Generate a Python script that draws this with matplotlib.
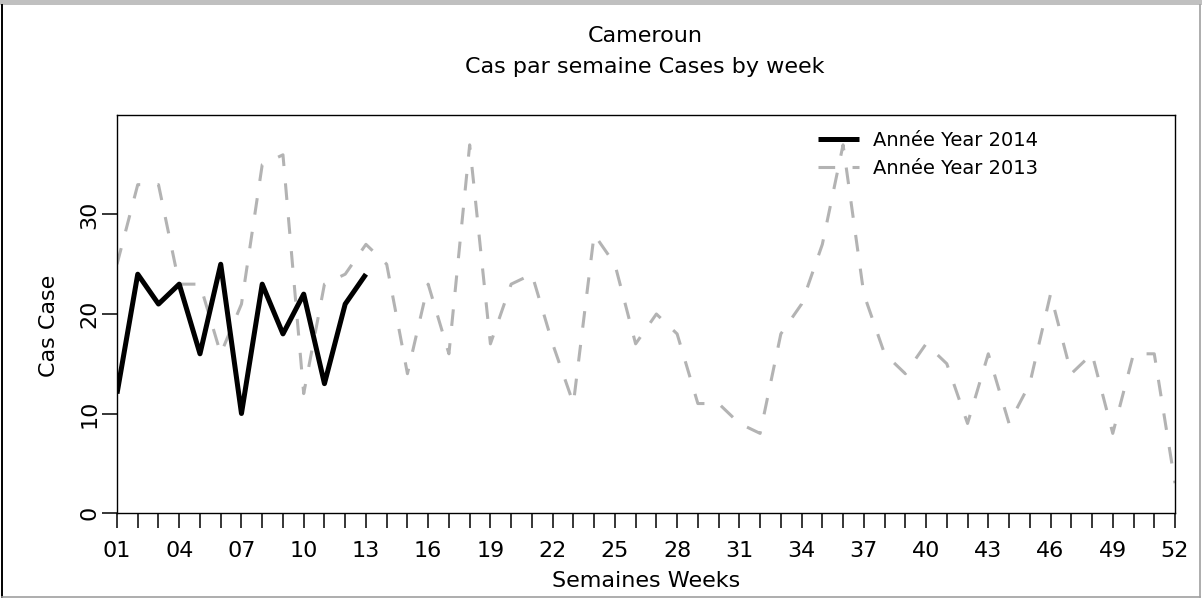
import matplotlib
matplotlib.use("Agg")
import matplotlib.pyplot as plt
from matplotlib.lines import Line2D
from matplotlib.patches import Rectangle

# ---- data ----
weeks_2014 = list(range(1, 14))
cases_2014 = [12, 24, 21, 23, 16, 25, 10, 23, 18, 22, 13, 21, 24]

weeks_2013 = list(range(1, 53))
cases_2013 = [25, 33, 33, 23, 23, 16, 21, 35, 36, 12,
              23, 24, 27, 25, 14, 23, 16, 37, 17, 23,
              24, 17, 11, 28, 25, 17, 20, 18, 11, 11,
              9, 8, 18, 21, 27, 37, 22, 16, 14, 17,
              15, 9, 16, 9, 13, 22, 14, 16, 8, 16,
              16, 3]

week_tick_labels = ["01", "04", "07", "10", "13", "16", "19", "22", "25",
                    "28", "31", "34", "37", "40", "43", "46", "49", "52"]
y_ticks = [0, 10, 20, 30]
y_tick_labels = ["0", "10", "20", "30"]

title_line1 = "Cameroun"
title_line2 = "Cas par semaine Cases by week"
x_label = "Semaines Weeks"
y_label = "Cas Case"
legend_labels = ["Année Year 2014", "Année Year 2013"]

# ---- style ----
plt.rcParams['font.family'] = ['DejaVu Sans']
plt.rcParams['lines.scale_dashes'] = False

W, H = 1202, 600
fig = plt.figure(figsize=(W / 100, H / 100), dpi=100)
fig.patch.set_facecolor('white')

ax = fig.add_axes([117 / W, (H - 513) / H, (1175 - 117) / W, (513 - 115) / H])

l13, = ax.plot(weeks_2013, cases_2013, color='#b3b3b3', lw=2.2,
               linestyle=(0, (12, 12.5)), dash_capstyle='butt',
               dash_joinstyle='round')
l14, = ax.plot(weeks_2014, cases_2014, color='black', lw=3.6,
               solid_joinstyle='round', solid_capstyle='butt')

ax.set_xlim(1, 52)
ax.set_ylim(0, 40)

tick_pos = [int(t) for t in week_tick_labels]
ax.set_xticks(tick_pos)
ax.set_xticklabels(week_tick_labels)
ax.set_xticks(weeks_2013, minor=True)
ax.tick_params(axis='x', which='both', length=10.5, width=1.1,
               direction='out', pad=10, labelsize=16, colors='black')

ax.set_yticks(y_ticks)
ax.set_yticklabels(y_tick_labels)
ax.tick_params(axis='y', length=10.5, width=1.1, direction='out', pad=2,
               labelsize=16)
for lab in ax.get_yticklabels():
    lab.set_rotation(90)
    lab.set_va('center')

for sp in ax.spines.values():
    sp.set_linewidth(1.0)
    sp.set_color('black')

ax.set_xlabel(x_label, fontsize=16, va='center')
ax.xaxis.set_label_coords(0.5, (513 - 581) / 398)
ax.set_ylabel(y_label, fontsize=16, va='center')
ax.yaxis.set_label_coords((49 - 117) / 1058, (513 - 326) / 398)

fig.text(645 / W, 1 - 36 / H, title_line1, ha='center', va='center', fontsize=16)
fig.text(645 / W, 1 - 67 / H, title_line2, ha='center', va='center', fontsize=16)

ax.legend([l14, l13], legend_labels, loc='upper left',
          bbox_to_anchor=((818 - 117) / 1058, (513 - 131) / 398),
          frameon=False, fontsize=14, handlelength=2.1, handletextpad=0.75,
          labelspacing=0.45, borderpad=0, borderaxespad=0)

# ---- window frame ----
fig.add_artist(Rectangle((0, 1 - 5 / H), 1, 5 / H, transform=fig.transFigure,
                         facecolor='#c0c0c0', edgecolor='none'))
fig.add_artist(Line2D([1.5 / W, 1.5 / W], [(H - 597) / H, 1 - 5 / H],
                      transform=fig.transFigure, color='black', lw=1.4))
fig.add_artist(Line2D([1200 / W, 1200 / W], [(H - 597) / H, 1 - 5 / H],
                      transform=fig.transFigure, color='#a0a0a0', lw=1.2))
fig.add_artist(Line2D([1.5 / W, 1200 / W], [(H - 596.5) / H, (H - 596.5) / H],
                      transform=fig.transFigure, color='#a0a0a0', lw=1.2))

fig.savefig("out.png", dpi=100)
